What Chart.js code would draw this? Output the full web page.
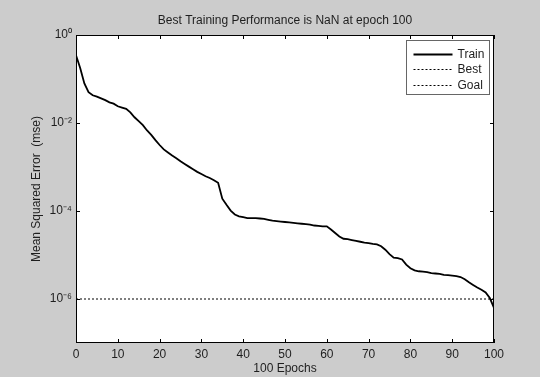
<!DOCTYPE html>
<html>
<head>
<meta charset="utf-8">
<script src="https://cdn.jsdelivr.net/npm/chart.js@4/dist/chart.umd.min.js"></script>
<style>
  html, body { margin: 0; padding: 0; background: #cccccc; }
  canvas { display: block; }
</style>
</head>
<body>
<canvas id="perfChart" width="540" height="377"></canvas>
<script>
// Training record (mse per epoch)
const trainPerf = [
  3.47e-1, 1.78e-1, 7.94e-2, 5.01e-2, 4.27e-2, 3.98e-2, 3.63e-2, 3.31e-2, 2.95e-2, 2.75e-2,
  2.40e-2, 2.24e-2, 2.09e-2, 1.74e-2, 1.35e-2, 1.10e-2, 8.91e-3, 6.76e-3, 5.37e-3, 4.07e-3,
  3.16e-3, 2.51e-3, 2.14e-3, 1.82e-3, 1.58e-3, 1.35e-3, 1.17e-3, 1.02e-3, 8.91e-4, 7.76e-4,
  6.92e-4, 6.17e-4, 5.62e-4, 5.01e-4, 4.37e-4, 1.91e-4, 1.38e-4, 1.02e-4, 8.32e-5, 7.59e-5,
  7.24e-5, 6.92e-5, 6.92e-5, 6.92e-5, 6.76e-5, 6.61e-5, 6.31e-5, 6.03e-5, 5.89e-5, 5.75e-5,
  5.62e-5, 5.50e-5, 5.37e-5, 5.25e-5, 5.13e-5, 5.01e-5, 4.90e-5, 4.68e-5, 4.57e-5, 4.47e-5,
  4.47e-5, 3.80e-5, 3.16e-5, 2.63e-5, 2.34e-5, 2.29e-5, 2.19e-5, 2.09e-5, 2.00e-5, 1.91e-5,
  1.86e-5, 1.78e-5, 1.74e-5, 1.58e-5, 1.32e-5, 1.05e-5, 8.71e-6, 8.51e-6, 7.94e-6, 6.03e-6,
  5.01e-6, 4.47e-6, 4.27e-6, 4.17e-6, 4.07e-6, 3.89e-6, 3.80e-6, 3.72e-6, 3.55e-6, 3.47e-6,
  3.39e-6, 3.31e-6, 3.16e-6, 2.82e-6, 2.40e-6, 2.09e-6, 1.82e-6, 1.62e-6, 1.41e-6, 1.05e-6,
  6.31e-7
];
const epochs = trainPerf.map((_, i) => i);

const goalPerf = 1e-6;
const bestPerf = NaN; // "Best Training Performance is NaN"
const bestEpoch = 100;

const xTicks = [0, 10, 20, 30, 40, 50, 60, 70, 80, 90, 100];
const yTicks = [1, 1e-2, 1e-4, 1e-6];
const yTickLabels = ["10\u2070", "10\u207B\u00B2", "10\u207B\u2074", "10\u207B\u2076"];

const FONT = "'Liberation Sans', Arial, Helvetica, sans-serif";
const TEXT = "#1e1e1e";

// gray figure, white axes, box + inward ticks, boxed legend
const matlabAxes = {
  id: "matlabAxes",
  beforeDraw(chart) {
    const { ctx, chartArea: a } = chart;
    ctx.save();
    ctx.fillStyle = "#cccccc";
    ctx.fillRect(0, 0, chart.width, chart.height);
    ctx.fillStyle = "#ffffff";
    ctx.fillRect(a.left, a.top, a.right - a.left, a.bottom - a.top);
    ctx.restore();
  },
  afterDraw(chart) {
    const { ctx, chartArea: a, scales } = chart;
    const x = scales.x, y = scales.y;
    ctx.save();
    ctx.strokeStyle = "#000";
    ctx.lineWidth = 1;
    ctx.setLineDash([]);
    ctx.strokeRect(Math.round(a.left) + 0.5, Math.round(a.top) + 0.5,
      Math.round(a.right - a.left) - 1, Math.round(a.bottom - a.top) - 1);

    const len = 4;
    ctx.beginPath();
    xTicks.forEach((v) => {
      const px = Math.round(x.getPixelForValue(v)) + 0.5;
      ctx.moveTo(px, a.bottom); ctx.lineTo(px, a.bottom - len);
      ctx.moveTo(px, a.top); ctx.lineTo(px, a.top + len);
    });
    yTicks.forEach((v) => {
      const py = Math.round(y.getPixelForValue(v)) + 0.5;
      ctx.moveTo(a.left, py); ctx.lineTo(a.left + len, py);
      ctx.moveTo(a.right, py); ctx.lineTo(a.right - len, py);
    });
    ctx.stroke();

    // legend
    const bw = 83, bh = 54;
    const bx = Math.round(a.right) - 5 - bw + 0.5;
    const by = Math.round(a.top) + 5 + 0.5;
    ctx.fillStyle = "#fff";
    ctx.fillRect(bx, by, bw, bh);
    ctx.strokeStyle = "#666";
    ctx.strokeRect(bx, by, bw, bh);
    ctx.font = "12px " + FONT;
    ctx.textBaseline = "middle";
    ctx.textAlign = "left";
    chart.data.datasets.forEach((ds, i) => {
      const ry = Math.round(by + 13 + i * 15.5) + 0.5;
      ctx.beginPath();
      ctx.strokeStyle = ds.borderColor;
      ctx.lineWidth = ds.borderWidth;
      ctx.setLineDash(ds.borderDash || []);
      ctx.moveTo(bx + 7, ry);
      ctx.lineTo(bx + 46, ry);
      ctx.stroke();
      ctx.fillStyle = TEXT;
      ctx.fillText(ds.label, bx + 51, ry);
    });
    ctx.restore();
  }
};

new Chart(document.getElementById("perfChart"), {
  type: "line",
  data: {
    datasets: [
      {
        label: "Train",
        data: epochs.map((e, i) => ({ x: e, y: trainPerf[i] })),
        borderColor: "#000",
        borderWidth: 1.8,
        pointRadius: 0,
        tension: 0
      },
      {
        label: "Best",
        data: [{ x: bestEpoch, y: bestPerf }],
        borderColor: "#000",
        borderWidth: 1,
        borderDash: [2, 2],
        pointRadius: 0
      },
      {
        label: "Goal",
        data: [{ x: 0, y: goalPerf }, { x: 100, y: goalPerf }],
        borderColor: "#000",
        borderWidth: 1,
        borderDash: [2, 2],
        pointRadius: 0
      }
    ]
  },
  options: {
    responsive: false,
    animation: false,
    layout: { padding: { left: 0, right: 46, top: 0, bottom: 0 } },
    plugins: {
      legend: { display: false },
      tooltip: { enabled: false },
      title: {
        display: true,
        fullSize: false,
        text: "Best Training Performance is NaN at epoch 100",
        color: TEXT,
        font: { family: FONT, size: 12, weight: "normal" },
        padding: { top: 13, bottom: 7.6 }
      }
    },
    scales: {
      x: {
        type: "linear",
        min: 0,
        max: 100,
        afterBuildTicks: (scale) => { scale.ticks = xTicks.map((v) => ({ value: v })); },
        afterFit: (scale) => { scale.height = 34; },
        grid: { display: false, drawTicks: false },
        border: { display: false },
        ticks: { color: TEXT, padding: 4, maxRotation: 0, font: { family: FONT, size: 12 } },
        title: {
          display: true,
          text: "100 Epochs",
          color: TEXT,
          font: { family: FONT, size: 12 },
          padding: { top: 0, bottom: 1 }
        }
      },
      y: {
        type: "logarithmic",
        min: 1e-7,
        max: 1,
        afterBuildTicks: (scale) => { scale.ticks = yTicks.map((v) => ({ value: v })); },
        afterFit: (scale) => { scale.width = 76; },
        grid: { display: false, drawTicks: false },
        border: { display: false },
        ticks: {
          color: TEXT,
          padding: 4,
          font: { family: FONT, size: 12 },
          callback: (v) => {
            const k = yTicks.indexOf(v);
            return k >= 0 ? yTickLabels[k] : "";
          }
        },
        title: {
          display: true,
          text: "Mean Squared Error  (mse)",
          color: TEXT,
          font: { family: FONT, size: 12 },
          padding: { top: 29, bottom: 0 }
        }
      }
    }
  },
  plugins: [matlabAxes]
});
</script>
</body>
</html>
